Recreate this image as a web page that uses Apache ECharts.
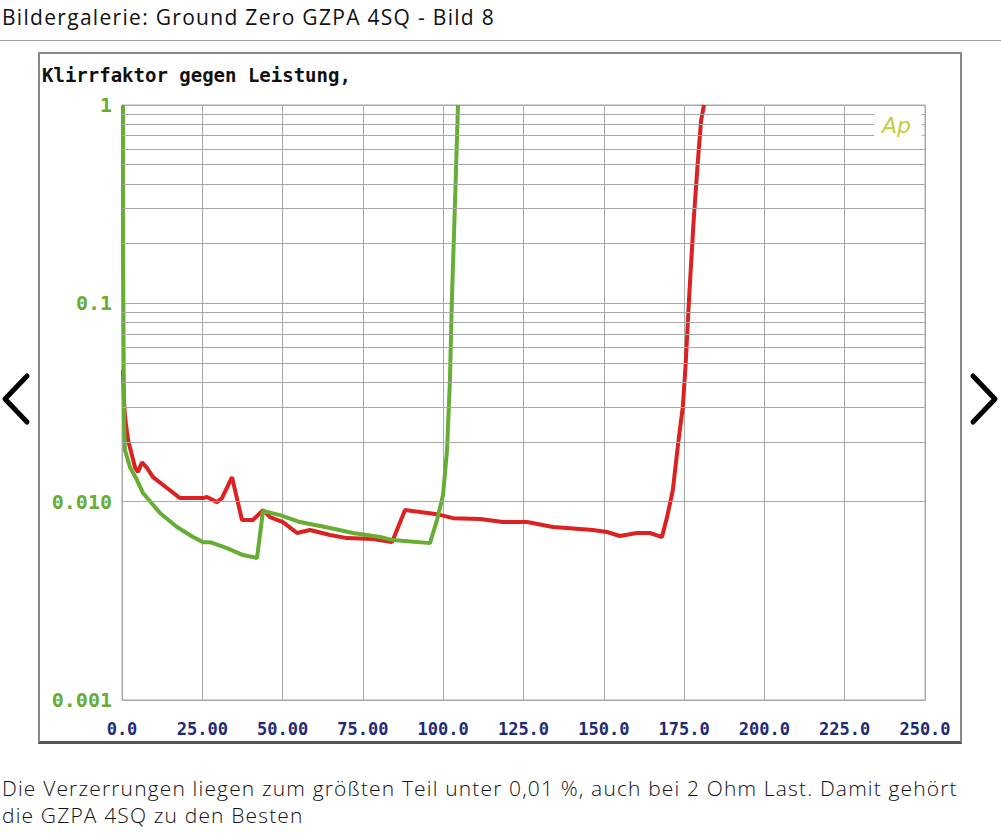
<!DOCTYPE html>
<html><head><meta charset="utf-8">
<script src="https://cdn.jsdelivr.net/npm/echarts@6/dist/echarts.min.js"></script>
<style>
html,body{margin:0;padding:0;background:#fff;width:1001px;height:833px;overflow:hidden;}
#title{position:absolute;left:2px;top:3px;font:500 21px "Open Sans",sans-serif;letter-spacing:1.3px;color:#111;white-space:nowrap;}
#rule{position:absolute;left:0;top:40px;width:1001px;height:1px;background:#a0a0a0;}
#frame{position:absolute;left:38px;top:52px;width:920px;height:687px;border:2px solid #8a8a8a;border-bottom:3px solid #555;}
#chart{position:absolute;left:0;top:0;width:1001px;height:833px;}
#caption{position:absolute;left:2px;top:775px;font:300 21px "Open Sans",sans-serif;letter-spacing:1.15px;line-height:27px;color:#111;white-space:nowrap;}
svg.arrows{position:absolute;left:0;top:0;}
</style>
</head><body>
<div id="title">Bildergalerie: Ground Zero GZPA 4SQ - Bild 8</div>
<div id="rule"></div>
<div id="frame"></div>
<div id="chart"></div>
<svg class="arrows" width="1001" height="833">
  <polyline points="27,376 5,399 27,422" fill="none" stroke="#000" stroke-width="5" stroke-linecap="round" stroke-linejoin="round"/>
  <polyline points="973,376 995,399 973,422" fill="none" stroke="#000" stroke-width="5" stroke-linecap="round" stroke-linejoin="round"/>
</svg>
<div id="caption">Die Verzerrungen liegen zum größten Teil unter 0,01 %, auch bei 2 Ohm Last. Damit gehört<br>die GZPA 4SQ zu den Besten</div>
<script>
// ---- data ----
const chartTitle = 'Klirrfaktor gegen Leistung,';
const xTicks = [0, 25, 50, 75, 100, 125, 150, 175, 200, 225, 250];
const xTickLabels = ['0.0', '25.00', '50.00', '75.00', '100.0', '125.0', '150.0', '175.0', '200.0', '225.0', '250.0'];
const yTickExps = [-3, -2, -1, 0];
const yTickLabels = ['0.001', '0.010', '0.1', '1'];
const minorMultipliers = [2, 3, 4, 5, 6, 7, 8, 9];

const greenX = [0.31, 0.31, 0.62, 0.93, 2.49, 4.67, 6.54, 11.83, 17.12, 22.10, 25.22, 27.40, 32.69, 37.67, 42.03, 43.90, 49.19, 55.42, 64.76, 71.92, 80.32, 84.37, 95.89, 98.07, 99.94, 101.2, 102.1, 102.7, 103.7, 104.6];
const greenY = [1, 0.186, 0.0258, 0.0182, 0.0149, 0.01285, 0.01105, 0.00877, 0.00745, 0.00663, 0.00625, 0.00625, 0.00583, 0.00538, 0.00520, 0.00897, 0.00855, 0.00789, 0.00736, 0.00695, 0.00663, 0.00640, 0.00618, 0.00808, 0.0108, 0.0182, 0.0410, 0.104, 0.332, 1];

const redX = [0.31, 0.62, 0.93, 1.87, 4.05, 4.98, 6.23, 7.78, 9.65, 14.01, 18.06, 25.22, 26.46, 29.58, 31.13, 34.25, 37.36, 40.78, 43.90, 46.08, 50.12, 54.48, 58.53, 64.76, 70.05, 78.14, 84.06, 88.11, 92.78, 98.07, 103.05, 111.5, 118.6, 126.1, 134.2, 146.6, 151.0, 155.0, 160.3, 164.4, 168.1, 169.7, 171.5, 173.2, 174.6, 175.5, 176.6, 177.9, 179.2, 180.3, 181.2];
const redY = [0.0461, 0.0325, 0.0267, 0.0205, 0.0149, 0.0141, 0.0158, 0.0148, 0.0133, 0.01172, 0.01042, 0.01042, 0.01055, 0.00995, 0.01042, 0.0133, 0.00808, 0.00808, 0.00907, 0.00836, 0.00789, 0.00695, 0.00720, 0.00679, 0.00655, 0.00648, 0.00625, 0.00907, 0.00887, 0.00865, 0.00826, 0.00817, 0.00789, 0.00789, 0.00745, 0.00720, 0.00703, 0.00671, 0.00695, 0.00695, 0.00663, 0.00836, 0.01145, 0.0200, 0.0300, 0.0500, 0.110, 0.250, 0.500, 0.840, 1];

// ---- build ----
const zip = (xs, ys) => xs.map((x, i) => [x, ys[i]]);
const minorLines = [];
yTickExps.slice(0, -1).forEach(e => minorMultipliers.forEach(m => minorLines.push({ yAxis: m * Math.pow(10, e) })));

const GREEN = '#66ad33', RED = '#dd2020', GRID = '#a8a8a8';
const chart = echarts.init(document.getElementById('chart'), null, { renderer: 'svg' });
chart.setOption({
  animation: false,
  backgroundColor: 'transparent',
  grid: { left: 122, top: 105, width: 803, height: 595, show: true, borderColor: GRID, borderWidth: 1 },
  graphic: [
    { type: 'text', left: 42, top: 65, z: 100, style: { text: chartTitle, font: 'bold 19px "DejaVu Sans Mono", monospace', fill: '#111' } },
    { type: 'rect', shape: { x: 874, y: 108, width: 48, height: 32 }, z: 100, style: { fill: '#fff' } },
    { type: 'text', left: 882, top: 114, z: 101, style: { text: 'Ap', font: 'italic 22px "DejaVu Sans", sans-serif', fill: '#c4cc3c' } }
  ],
  xAxis: {
    type: 'value', min: 0, max: 250, interval: 25,
    axisLine: { show: true, lineStyle: { color: GRID, width: 1 } },
    axisTick: { show: false },
    splitLine: { show: true, lineStyle: { color: GRID, width: 1 } },
    axisLabel: {
      margin: 20, color: '#1f2a78', fontFamily: '"DejaVu Sans Mono", monospace', fontWeight: 'bold', fontSize: 17,
      formatter: v => { const i = xTicks.indexOf(Math.round(v)); return i >= 0 ? xTickLabels[i] : ''; }
    }
  },
  yAxis: {
    type: 'log', logBase: 10, min: 0.001, max: 1,
    axisLine: { show: true, lineStyle: { color: GRID, width: 1 } },
    axisTick: { show: false },
    splitLine: { show: true, lineStyle: { color: GRID, width: 1 } },
    axisLabel: {
      margin: 10, fontFamily: '"DejaVu Sans Mono", monospace', fontWeight: 'bold', fontSize: 20, color: GREEN,
      formatter: v => {
        const e = Math.round(Math.log10(v)); const i = yTickExps.indexOf(e);
        if (i < 0) return '';
        return e <= -2 ? '{r|' + yTickLabels[i] + '}' : yTickLabels[i];
      },
      rich: { r: { fontFamily: '"DejaVu Sans Mono", monospace', fontWeight: 'bold', fontSize: 20, color: GREEN, textShadowColor: '#c44a20', textShadowOffsetX: -2, textShadowBlur: 0 } }
    }
  },
  series: [
    {
      type: 'line', data: [], silent: true,
      markLine: { silent: true, symbol: 'none', label: { show: false }, lineStyle: { color: GRID, type: 'solid', width: 1 }, data: minorLines }
    },
    { name: 'red', type: 'line', data: zip(redX, redY), showSymbol: false, lineStyle: { color: RED, width: 4 }, itemStyle: { color: RED } },
    { name: 'green', type: 'line', data: zip(greenX, greenY), showSymbol: false, lineStyle: { color: GREEN, width: 4 }, itemStyle: { color: GREEN } }
  ]
});
</script>
</body></html>
